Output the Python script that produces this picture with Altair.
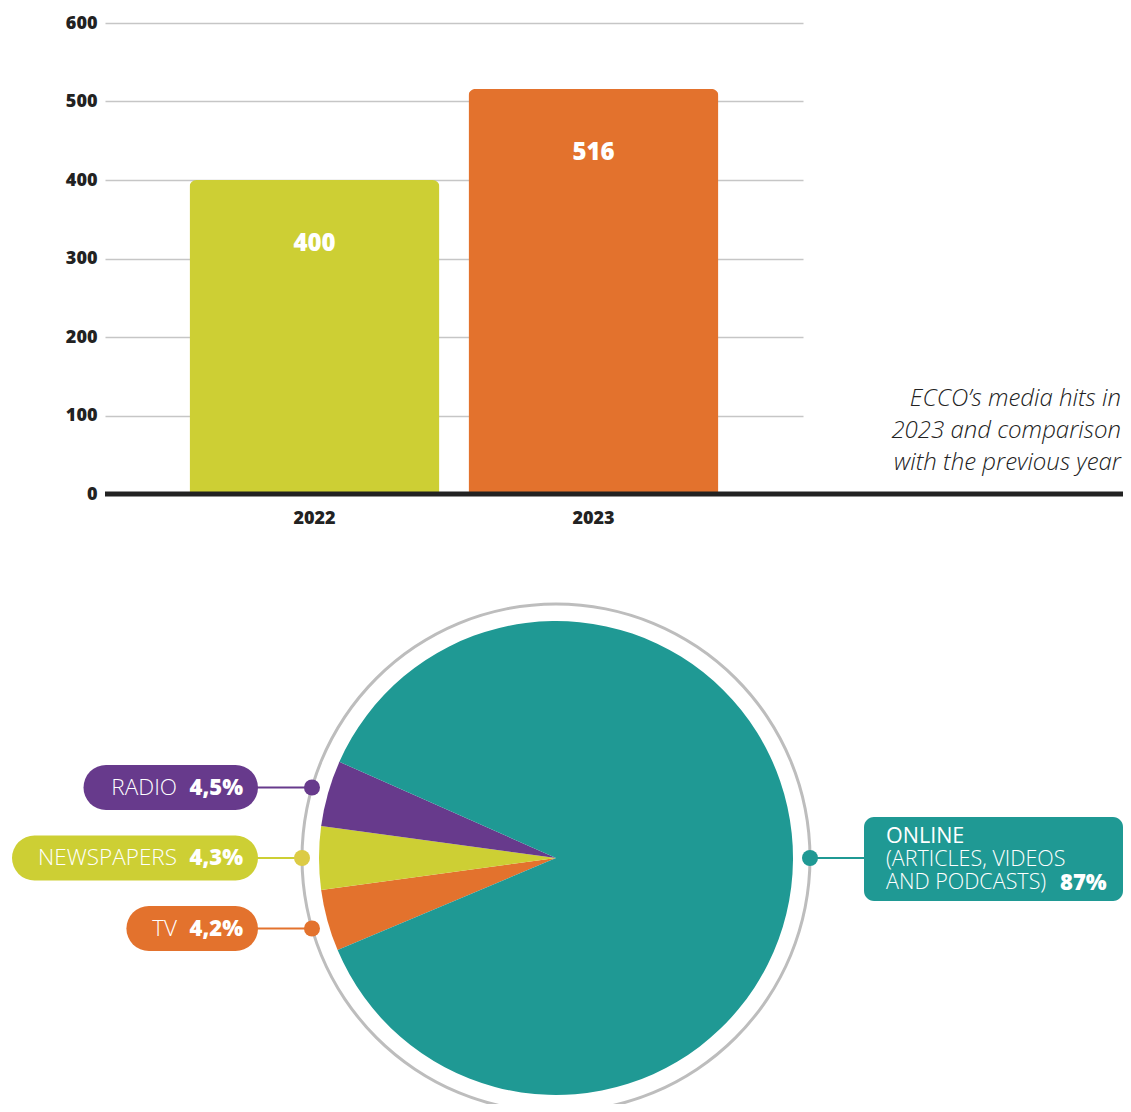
import math
import altair as alt
import pandas as pd

# ---------------- data ----------------
YEARS = ["2022", "2023"]
HITS = [400, 516]
Y_TICKS = [0, 100, 200, 300, 400, 500, 600]

MEDIA = ["TV", "NEWSPAPERS", "RADIO", "ONLINE"]
SHARES = [4.2, 4.3, 4.5, 87.0]
SHARE_LABELS = ["4,2%", "4,3%", "4,5%", "87%"]
ONLINE_LINES = ["ONLINE", "(ARTICLES, VIDEOS", "AND PODCASTS)"]
CAPTION = ["ECCO\u2019s media hits in", "2023 and comparison", "with the previous year"]

# ---------------- style ----------------
BAR_COLORS = ["#cdcf34", "#e3722d"]
MEDIA_COLORS = ["#e3722d", "#cdcf34", "#673a8c", "#1f9994"]
DOT_COLORS = ["#e3722d", "#dccb45", "#673a8c", "#1f9994"]
INK = "#222222"
FONT = "Open Sans"

W, H = 698, 471
CX, CY = 451, 835
R_PIE, R_RING = 237, 254

one = pd.DataFrame({"k": [0]})

# ---------------- bar chart ----------------
bars_df = pd.DataFrame({"year": YEARS, "hits": HITS})
xenc = alt.X(
    "year:N", sort=YEARS,
    scale=alt.Scale(paddingInner=0.104, paddingOuter=0.303),
    axis=alt.Axis(title=None, labelAngle=0, domain=False, ticks=False, labelPadding=15,
                  labelFont=FONT, labelFontSize=18, labelFontWeight=800, labelColor=INK),
)
yenc = alt.Y(
    "hits:Q", scale=alt.Scale(domain=[0, 600], nice=False),
    axis=alt.Axis(title=None, values=Y_TICKS, domain=False, ticks=False, grid=True,
                  gridColor="#c6c6c6", gridWidth=1.5, labelPadding=8,
                  labelFont=FONT, labelFontSize=18, labelFontWeight=800, labelColor=INK),
)
bars = alt.Chart(bars_df).mark_bar(cornerRadiusTopLeft=7, cornerRadiusTopRight=7).encode(
    x=xenc, y=yenc,
    color=alt.Color("year:N", scale=alt.Scale(domain=YEARS, range=BAR_COLORS), legend=None),
)
bar_text = alt.Chart(bars_df).mark_text(
    baseline="middle", dy=64, color="white", font=FONT, fontSize=24, fontWeight=800
).encode(x=xenc, y=yenc, text="hits:Q")

baseline = alt.Chart(one).mark_rule(color=INK, strokeWidth=5).encode(
    x=alt.value(0), x2=alt.value(1018), y=alt.value(H)
)
caption = alt.Chart(one).mark_text(
    text=CAPTION, align="right", baseline="middle", lineHeight=32,
    font=FONT, fontSize=24, fontStyle="italic", fontWeight=300, color=INK
).encode(x=alt.value(1016), y=alt.value(376))

# ---------------- pie chart ----------------
pie_df = pd.DataFrame({"medium": MEDIA, "share": SHARES, "ord": list(range(len(MEDIA)))})
total = sum(SHARES)
start = 1.5 * math.pi - (SHARES[0] + SHARES[1] / 2) / total * 2 * math.pi
pie = alt.Chart(pie_df).mark_arc(radius=R_PIE).encode(
    theta=alt.Theta("share:Q", stack=True, scale=alt.Scale(range=[start, start + 2 * math.pi])),
    order=alt.Order("ord:Q"),
    color=alt.Color("medium:N", scale=alt.Scale(domain=MEDIA, range=MEDIA_COLORS), legend=None),
    x=alt.value(CX), y=alt.value(CY),
)
ring = alt.Chart(one).mark_arc(
    radius=R_RING + 1.5, innerRadius=R_RING - 1.5, theta=0, theta2=2 * math.pi, color="#bdbdbd"
).encode(x=alt.value(CX), y=alt.value(CY))

layers = [ring, pie]

# left labels (TV, NEWSPAPERS, RADIO)
PILL_RIGHT = 153
PCT_RIGHT = PILL_RIGHT - 15
NAME_RIGHT = PCT_RIGHT - 66
offsets = [70.5, 0.0, -70.5]
for i in range(3):
    yc = CY + offsets[i]
    dot_x = CX - math.sqrt(R_RING ** 2 - offsets[i] ** 2)
    name_w = len(MEDIA[i]) * 14.3
    left = NAME_RIGHT - name_w - 22
    col = MEDIA_COLORS[i]
    layers.append(alt.Chart(one).mark_rule(strokeWidth=45, strokeCap="round", color=col).encode(
        x=alt.value(left + 22.5), x2=alt.value(PILL_RIGHT - 22.5), y=alt.value(yc)))
    layers.append(alt.Chart(one).mark_rule(strokeWidth=2, color=col).encode(
        x=alt.value(PILL_RIGHT - 2), x2=alt.value(dot_x), y=alt.value(yc)))
    layers.append(alt.Chart(one).mark_point(filled=True, size=256, shape="circle", opacity=1,
                                            color=DOT_COLORS[i]).encode(
        x=alt.value(dot_x), y=alt.value(yc)))
    layers.append(alt.Chart(one).mark_text(text=MEDIA[i], align="right", baseline="middle",
                                           font=FONT, fontSize=22.5, fontWeight=300, color="white").encode(
        x=alt.value(NAME_RIGHT), y=alt.value(yc)))
    layers.append(alt.Chart(one).mark_text(text=SHARE_LABELS[i], align="right", baseline="middle",
                                           font=FONT, fontSize=22, fontWeight=800, color="white").encode(
        x=alt.value(PCT_RIGHT), y=alt.value(yc)))

# right label (ONLINE)
ocol = MEDIA_COLORS[3]
odot = CX + R_RING
layers.append(alt.Chart(one).mark_rule(strokeWidth=2, color=ocol).encode(
    x=alt.value(odot), x2=alt.value(760), y=alt.value(CY)))
layers.append(alt.Chart(one).mark_point(filled=True, size=256, shape="circle", opacity=1,
                                        color=DOT_COLORS[3]).encode(
    x=alt.value(odot), y=alt.value(CY)))
layers.append(alt.Chart(one).mark_rect(cornerRadius=10, color=ocol).encode(
    x=alt.value(759), x2=alt.value(1018), y=alt.value(794), y2=alt.value(878)))
line_y = [814, 837, 860]
for j, txt in enumerate(ONLINE_LINES):
    layers.append(alt.Chart(one).mark_text(text=txt, align="left", baseline="middle",
                                           font=FONT, fontSize=21.5,
                                           fontWeight=500 if j == 0 else 300, color="white").encode(
        x=alt.value(781), y=alt.value(line_y[j])))
layers.append(alt.Chart(one).mark_text(text=SHARE_LABELS[3], align="left", baseline="middle",
                                       font=FONT, fontSize=22, fontWeight=800, color="white").encode(
    x=alt.value(955), y=alt.value(line_y[2])))

chart = alt.layer(bars, bar_text, baseline, caption, *layers).resolve_scale(
    color="independent"
).properties(
    width=W, height=H,
    autosize=alt.AutoSizeParams(type="none"),
    padding={"left": 97, "top": 15, "right": 320, "bottom": 610},
).configure_view(stroke=None)

chart.save("out.html", embed_options={"renderer": "svg", "actions": False})
